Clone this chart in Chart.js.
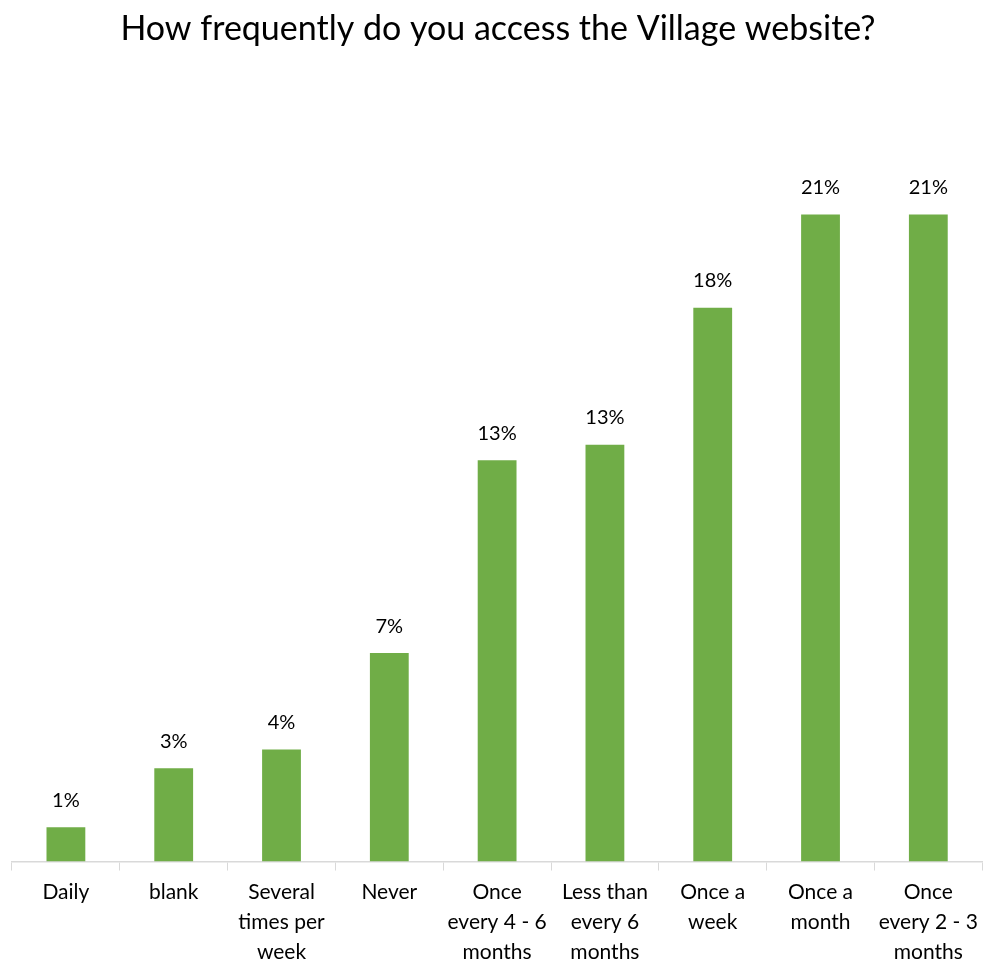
<!DOCTYPE html>
<html>
<head>
<meta charset="utf-8">
<title>Village website usage</title>
<script src="https://cdn.jsdelivr.net/npm/chart.js@4.4.1/dist/chart.umd.min.js"></script>
<style>
    html, body {
        margin: 0;
        padding: 0;
        background: #FFFFFF;
    }

    #chartBox {
        width: 985px;
        height: 963px;
    }
</style>
</head>
<body>
<div id="chartBox">
    <canvas id="accessChart"></canvas>
</div>

<script>
"use strict";

// Answer options, wrapped onto lines the way they sit under the axis.
const categories = [
    ["Daily"],
    ["blank"],
    ["Several", "times per", "week"],
    ["Never"],
    ["Once", "every 4 - 6", "months"],
    ["Less than", "every 6", "months"],
    ["Once a", "week"],
    ["Once a", "month"],
    ["Once", "every 2 - 3", "months"]
];

// Share of respondents, in percent.
const shares = [1.1, 3.0, 3.6, 6.7, 12.9, 13.4, 17.8, 20.8, 20.8];

const chartTitle = "How frequently do you access the Village website?";

const barGreen = "#70AD47";
const axisGrey = "#D9D9D9";
const fontFamily = "Lato, 'Open Sans', sans-serif";

/**
 * Writes the rounded percentage above each bar.
 */
const valueLabels = {

    id: "valueLabels",

    afterDatasetsDraw(chart) {

        const ctx = chart.ctx;
        const meta = chart.getDatasetMeta(0);

        ctx.save();
        ctx.font = "20px " + fontFamily;
        ctx.fillStyle = "#000000";
        ctx.textAlign = "center";
        ctx.textBaseline = "middle";

        meta.data.forEach((bar, i) => {

            const text = Math.round(shares[i]) + "%";

            ctx.fillText(text, bar.x, bar.y - 27);

        });

        ctx.restore();
    }
};

const canvas = document.querySelector("#accessChart");

new Chart(canvas, {

    type: "bar",

    data: {
        labels: categories,
        datasets: [
            {
                label: "Share",
                data: shares,
                backgroundColor: barGreen,
                borderWidth: 0,
                categoryPercentage: 1,
                barPercentage: 0.36
            }
        ]
    },

    options: {
        responsive: true,
        maintainAspectRatio: false,
        animation: false,
        layout: {
            padding: {
                left: 12,
                right: 1,
                top: 0,
                bottom: -11
            }
        },
        plugins: {
            legend: {
                display: false
            },
            tooltip: {
                enabled: false
            },
            title: {
                display: true,
                text: chartTitle,
                color: "#000000",
                font: {
                    family: fontFamily,
                    size: 34,
                    weight: "normal"
                },
                padding: {
                    top: 9,
                    bottom: 34
                }
            }
        },
        scales: {
            x: {
                grid: {
                    display: true,
                    drawOnChartArea: false,
                    drawTicks: true,
                    tickLength: 9,
                    color: axisGrey,
                    offset: true
                },
                border: {
                    display: true,
                    color: axisGrey,
                    width: 1.5
                },
                ticks: {
                    color: "#000000",
                    maxRotation: 0,
                    autoSkip: false,
                    padding: 7,
                    font: {
                        family: fontFamily,
                        size: 21,
                        lineHeight: 1.42
                    }
                }
            },
            y: {
                display: false,
                min: 0,
                max: 25
            }
        }
    },

    plugins: [valueLabels]
});
</script>
</body>
</html>
